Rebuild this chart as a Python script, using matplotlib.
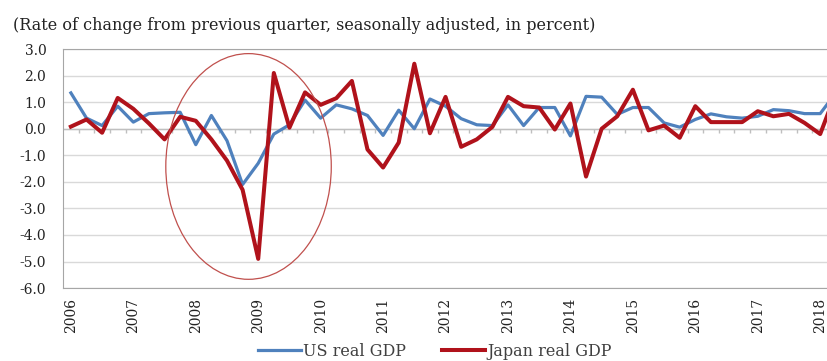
import numpy as np
import matplotlib.pyplot as plt
from matplotlib.patches import Ellipse

# quarterly real GDP, rate of change from previous quarter (%), 2006Q1 - 2018Q2
years = [str(y) for y in range(2006, 2019)]

us_gdp = [1.35, 0.4, 0.12, 0.85, 0.25, 0.57, 0.6, 0.62, -0.6, 0.5,
          -0.45, -2.1, -1.3, -0.2, 0.15, 1.08, 0.4, 0.9, 0.75, 0.5,
          -0.25, 0.7, 0.0, 1.12, 0.85, 0.38, 0.15, 0.12, 0.9, 0.12,
          0.8, 0.8, -0.27, 1.22, 1.19, 0.54, 0.8, 0.8, 0.22, 0.06,
          0.35, 0.56, 0.45, 0.4, 0.47, 0.72, 0.68, 0.57, 0.57, 1.35]

japan_gdp = [0.08, 0.35, -0.15, 1.16, 0.75, 0.2, -0.4, 0.45, 0.3, -0.4,
             -1.2, -2.3, -4.9, 2.1, 0.04, 1.37, 0.9, 1.15, 1.8, -0.78,
             -1.46, -0.52, 2.45, -0.17, 1.2, -0.68, -0.4, 0.07, 1.2, 0.85,
             0.8, -0.03, 0.95, -1.8, 0.0, 0.47, 1.47, -0.06, 0.12, -0.34,
             0.85, 0.25, 0.25, 0.25, 0.66, 0.47, 0.56, 0.22, -0.2, 1.35]

quarters = np.arange(len(us_gdp))

plt.rcParams["font.family"] = ["Liberation Serif", "DejaVu Serif"]
wide = "DejaVu Serif"

fig = plt.figure(figsize=(8.28, 3.61), dpi=100)
ax = fig.add_axes([0.076, 0.202, 0.924, 0.662])

# grid and zero line with quarter ticks
for v in range(-6, 4):
    ax.axhline(v, color="#d9d9d9", lw=1, zorder=0)
ax.axhline(0, color="#bfbfbf", lw=1, zorder=1)
ax.vlines(quarters + 0.5, -0.15, 0, color="#bfbfbf", lw=1, zorder=1)

ax.plot(quarters, us_gdp, color="#4f81bd", lw=2.3, label="US real GDP", zorder=3)
ax.plot(quarters, japan_gdp, color="#b0121b", lw=2.9, label="Japan real GDP", zorder=4)

# highlight the financial crisis
ax.add_patch(Ellipse((11.38, -1.42), 10.6, 8.5, fill=False,
                     edgecolor="#c0504d", lw=0.9, zorder=5))

ax.set_xlim(-0.51, 48.5)
ax.set_ylim(-6, 3)
ax.set_yticks(range(-6, 4))
ax.set_yticklabels(["%.1f" % v for v in range(-6, 4)], family=wide)
ax.set_xticks(quarters[::4])
ax.set_xticklabels(years, rotation="vertical", family=wide)
ax.tick_params(axis="both", length=0, labelsize=10, colors="#222222")
ax.tick_params(axis="y", pad=12)
ax.tick_params(axis="x", pad=7)

for side in ["top", "left", "bottom"]:
    ax.spines[side].set_color("#a6a6a6")
ax.spines["right"].set_visible(False)

fig.text(0.016, 0.93, "(Rate of change from previous quarter, seasonally adjusted, in percent)",
         fontsize=11.5, family=wide, color="#222222", va="center", ha="left")

fig.legend(loc="center", bbox_to_anchor=(0.525, 0.027), ncol=2, frameon=False,
           prop={"family": wide, "size": 11.5}, handlelength=2.7, columnspacing=2.3,
           handletextpad=0.1, labelcolor="#404040")

fig.savefig("out.png", dpi=100)
